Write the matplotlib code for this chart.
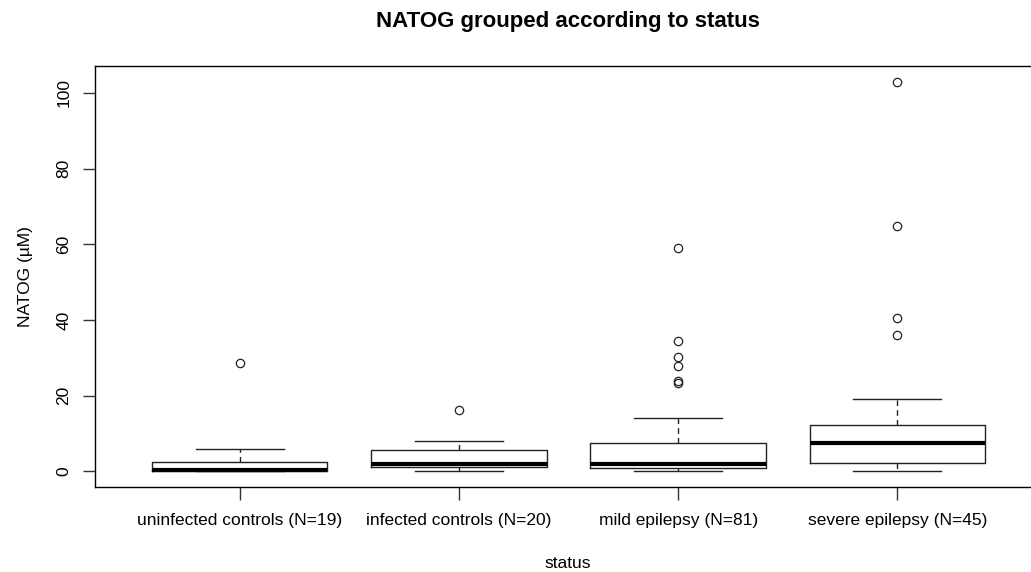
import matplotlib
matplotlib.use("Agg")
import matplotlib.pyplot as plt

plt.rcParams['font.family'] = ['Liberation Sans', 'DejaVu Sans']

groups = ["uninfected controls (N=19)", "infected controls (N=20)",
          "mild epilepsy (N=81)", "severe epilepsy (N=45)"]
whislo = [0.0, 0.0, 0.0, 0.0]
q1 = [0.0, 1.2, 0.8, 2.2]
med = [0.4, 2.0, 2.0, 7.5]
q3 = [2.5, 5.6, 7.5, 12.3]
whishi = [5.9, 8.0, 14.1, 19.2]
fliers = [[28.6],
          [16.2],
          [58.9, 34.5, 30.2, 27.9, 24.0, 23.4],
          [103.0, 64.9, 40.6, 36.1]]

stats = []
for i in range(len(groups)):
    stats.append(dict(whislo=whislo[i], q1=q1[i], med=med[i], q3=q3[i],
                      whishi=whishi[i], fliers=fliers[i]))

fig = plt.figure(figsize=(10.31, 5.72), dpi=100)
# plot region runs past the right edge of the picture (cropped like the original)
ax = fig.add_axes([95 / 1031, 1 - 487 / 572, 947 / 1031, 421 / 572])

ax.bxp(stats, positions=[1, 2, 3, 4], widths=0.8, capwidths=0.4,
       boxprops=dict(color="#222222", linewidth=1.0),
       medianprops=dict(color="black", linewidth=3.0, solid_capstyle="butt"),
       whiskerprops=dict(color="#222222", linewidth=1.0, linestyle=(0, (4, 3))),
       capprops=dict(color="#222222", linewidth=1.0),
       flierprops=dict(marker="o", markerfacecolor="none",
                       markeredgecolor="#222222", markersize=6,
                       markeredgewidth=0.9))

ax.set_xlim(0.34, 4.66)
ax.set_ylim(-4.12, 107.12)
ax.set_yticks([0, 20, 40, 60, 80, 100])
ax.set_yticklabels(["0", "20", "40", "60", "80", "100"], rotation=90,
                   va="center", fontsize=12.5)
ax.set_xticks([1, 2, 3, 4])
ax.set_xticklabels(groups, fontsize=12.5)
ax.tick_params(axis="x", length=9, width=1.0, color="#333333", pad=10)
ax.tick_params(axis="y", length=9, width=1.0, color="#333333", pad=8)
for s in ax.spines.values():
    s.set_linewidth(1.0)

fig.text(568 / 1031, 1 - 563 / 572, "status", fontsize=12.5,
         ha="center", va="center")
ax.set_ylabel("NATOG (µM)", fontsize=12.5, labelpad=17)
fig.text(568 / 1031, 1 - 22 / 572, "NATOG grouped according to status",
         fontsize=16, fontweight="bold", ha="center", va="center")

fig.savefig("out.png", dpi=100)
